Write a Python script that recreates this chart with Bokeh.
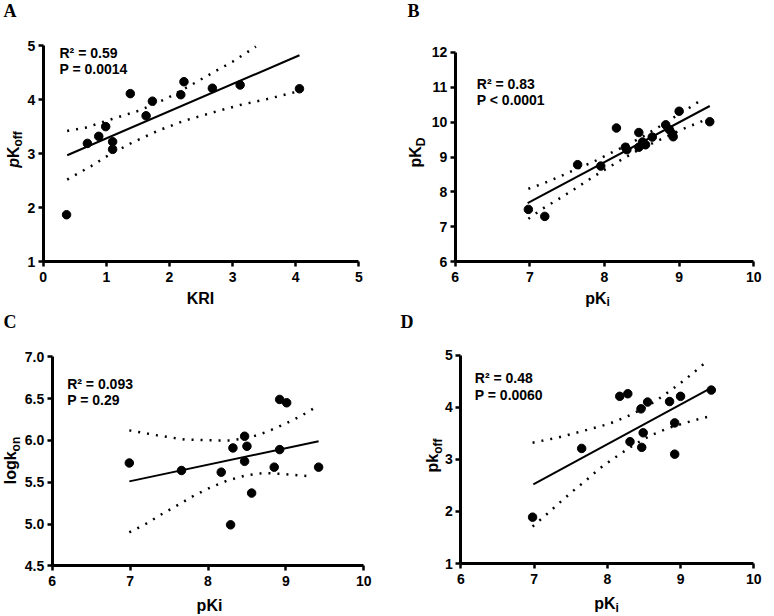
import math
from bokeh.plotting import figure
from bokeh.models import Range1d, FixedTicker, Label, PrintfTickFormatter, LinearAxis
from bokeh.layouts import column, row
from bokeh.embed import file_html
from bokeh.resources import INLINE

# ---------------- data ----------------
# Panel A: pKoff vs KRI
A_kri = [0.37, 0.70, 0.88, 0.99, 1.10, 1.10, 1.38, 1.63, 1.73, 2.18, 2.23, 2.68, 3.12, 4.06]
A_pkoff = [1.87, 3.19, 3.32, 3.50, 3.22, 3.08, 4.11, 3.70, 3.97, 4.09, 4.33, 4.21, 4.27, 4.20]
A_fit_x = [0.38, 4.06]
A_fit_y = [2.97, 4.82]
A_hi_x = [0.38, 0.67, 1.09, 1.53, 1.94, 2.33, 2.72, 3.00, 3.37]
A_hi_y = [3.42, 3.48, 3.64, 3.80, 4.01, 4.26, 4.52, 4.70, 4.98]
A_lo_x = [0.38, 0.76, 1.02, 1.42, 1.83, 2.24, 2.68, 3.12, 3.55, 4.00]
A_lo_y = [2.52, 2.77, 2.96, 3.21, 3.43, 3.61, 3.76, 3.90, 4.01, 4.14]
A_stats = ["R\u00b2 = 0.59", "P = 0.0014"]

# Panel B: pKD vs pKi
B_pki = [6.98, 7.20, 7.64, 7.95, 8.16, 8.28, 8.30, 8.46, 8.46, 8.51, 8.55, 8.64, 8.82, 8.87, 8.91, 8.92, 9.00, 9.41]
B_pkd = [7.50, 7.30, 8.78, 8.74, 9.83, 9.28, 9.21, 9.70, 9.28, 9.43, 9.35, 9.57, 9.92, 9.78, 9.66, 9.58, 10.31, 10.01]
B_fit_x = [6.97, 9.41]
B_fit_y = [7.68, 10.46]
B_hi_x = [6.98, 7.19, 7.41, 7.63, 7.86, 8.08, 8.30, 8.50, 8.72, 8.91, 9.13, 9.33]
B_hi_y = [8.09, 8.25, 8.45, 8.66, 8.87, 9.11, 9.34, 9.57, 9.85, 10.11, 10.40, 10.68]
B_lo_x = [6.98, 7.17, 7.38, 7.59, 7.79, 7.99, 8.20, 8.42, 8.63, 8.85, 9.06, 9.28, 9.35]
B_lo_y = [7.23, 7.52, 7.79, 8.07, 8.35, 8.62, 8.89, 9.16, 9.38, 9.60, 9.81, 10.00, 10.07]
B_stats = ["R\u00b2 = 0.83", "P < 0.0001"]

# Panel C: logkon vs pKi
C_pki = [6.99, 7.66, 8.17, 8.29, 8.32, 8.47, 8.47, 8.50, 8.56, 8.85, 8.92, 8.92, 9.01, 9.42]
C_logkon = [5.73, 5.64, 5.62, 4.99, 5.91, 6.05, 5.75, 5.93, 5.37, 5.68, 6.49, 5.89, 6.45, 5.68]
C_fit_x = [6.99, 9.42]
C_fit_y = [5.51, 5.99]
C_hi_x = [6.99, 7.35, 7.70, 8.06, 8.29, 8.52, 8.75, 8.97, 9.19, 9.39]
C_hi_y = [6.12, 6.06, 6.01, 6.00, 6.00, 6.03, 6.10, 6.19, 6.29, 6.40]
C_lo_x = [6.99, 7.20, 7.41, 7.62, 7.82, 8.04, 8.25, 8.48, 8.72, 8.95, 9.19, 9.31]
C_lo_y = [4.90, 5.00, 5.12, 5.23, 5.34, 5.44, 5.52, 5.58, 5.61, 5.60, 5.58, 5.57]
C_stats = ["R\u00b2 = 0.093", "P = 0.29"]

# Panel D: pkoff vs pKi
D_pki = [6.98, 7.65, 8.17, 8.28, 8.31, 8.46, 8.47, 8.49, 8.55, 8.85, 8.92, 8.92, 9.00, 9.42]
D_pkoff = [1.89, 3.21, 4.21, 4.26, 3.34, 3.97, 3.23, 3.51, 4.10, 4.11, 3.70, 3.10, 4.21, 4.33]
D_fit_x = [6.99, 9.40]
D_fit_y = [2.52, 4.36]
D_hi_x = [6.98, 7.33, 7.68, 8.02, 8.25, 8.47, 8.67, 8.87, 9.06, 9.25, 9.34]
D_hi_y = [3.32, 3.42, 3.55, 3.68, 3.81, 3.96, 4.13, 4.33, 4.53, 4.75, 4.86]
D_lo_x = [6.98, 7.16, 7.35, 7.53, 7.72, 7.90, 8.10, 8.29, 8.45, 8.61, 8.83, 9.06, 9.29, 9.41]
D_lo_y = [1.71, 1.93, 2.17, 2.39, 2.61, 2.83, 3.03, 3.21, 3.35, 3.47, 3.60, 3.70, 3.79, 3.83]
D_stats = ["R\u00b2 = 0.48", "P = 0.0060"]

# axis extents and ticks
A_xlim, A_ylim = (0, 5), (1, 5)
B_xlim, B_ylim = (6, 10), (6, 12)
C_xlim, C_ylim = (6, 10), (4.5, 7.0)
D_xlim, D_ylim = (6, 10), (1, 5)
A_xticks = [0, 1, 2, 3, 4, 5]
A_yticks = [1, 2, 3, 4, 5]
B_xticks = [6, 7, 8, 9, 10]
B_yticks = [6, 7, 8, 9, 10, 11, 12]
C_xticks = [6, 7, 8, 9, 10]
C_yticks = [4.5, 5.0, 5.5, 6.0, 6.5, 7.0]
D_xticks = [6, 7, 8, 9, 10]
D_yticks = [1, 2, 3, 4, 5]

SANS = "Liberation Sans"
SERIF = "Liberation Serif"
W = 387
H1, H2 = 310, 306
BASE_FIX = 0.3  # correction of the label baseline, in em


def make_panel(H, xr, yr, xticks, yticks, left, right, bottom, top, yfmt=None):
    fw = W - left - right
    fh = H - bottom - top
    xs = (xr[1] - xr[0]) / fw
    ys = (yr[1] - yr[0]) / fh
    p = figure(width=W, height=H,
               x_range=Range1d(xr[0] - left * xs, xr[1] + right * xs),
               y_range=Range1d(yr[0] - bottom * ys, yr[1] + top * ys),
               x_axis_location=None, y_axis_location=None, min_border=0,
               output_backend="svg", toolbar_location=None)
    p.outline_line_color = None
    p.grid.visible = False
    p.background_fill_color = "white"
    p.border_fill_color = "white"
    xa = LinearAxis(fixed_location=yr[0], bounds=xr, ticker=FixedTicker(ticks=xticks))
    ya = LinearAxis(fixed_location=xr[0], bounds=yr, ticker=FixedTicker(ticks=yticks))
    if yfmt:
        ya.formatter = PrintfTickFormatter(format=yfmt)
    for ax in (xa, ya):
        ax.axis_line_width = 3
        ax.axis_line_color = "black"
        ax.major_tick_line_width = 2.5
        ax.major_tick_line_color = "black"
        ax.major_tick_out = 5
        ax.major_tick_in = 0
        ax.minor_tick_line_color = None
        ax.major_label_text_font = SANS
        ax.major_label_text_font_style = "bold"
        ax.major_label_text_font_size = "14px"
        ax.major_label_text_color = "black"
    xa.major_label_standoff = 5
    ya.major_label_standoff = 3
    p.add_layout(xa, "below")
    p.add_layout(ya, "left")
    return p


def draw(p, x, y, fx, fy, hx, hy, lx, ly):
    p.line(hx, hy, line_color="black", line_width=2.5, line_dash="2 7")
    p.line(lx, ly, line_color="black", line_width=2.5, line_dash="2 7")
    p.line(fx, fy, line_color="black", line_width=2)
    p.scatter(x, y, size=8.5, color="black")


def lab(p, x, y, text, size=16, style="bold", font=SANS, rotated=False, align="left"):
    fix = BASE_FIX * size
    if rotated:
        x -= fix
    else:
        y += fix
    p.add_layout(Label(x=x, y=y, x_units="screen", y_units="screen", text=text,
                       text_font=font, text_font_size="%gpx" % size, text_font_style=style,
                       text_color="black", angle=(math.pi / 2 if rotated else 0),
                       text_align=align, text_baseline="alphabetic"))


def stats(p, x, y, lines):
    lab(p, x, y, lines[0], size=14)
    lab(p, x, y - 16.3, lines[1], size=14)


WID = {"p": 0.611, "K": 0.722, "o": 0.611, "f": 0.333, "D": 0.722,
       "l": 0.278, "g": 0.611, "k": 0.556, "n": 0.611, "i": 0.278}


def ylabel(p, x, ycenter, parts):
    total = sum(sum(WID[c] for c in t) * s for t, s, st, sub in parts)
    pos = ycenter - total / 2
    for t, s, st, sub in parts:
        lab(p, x + (4 if sub else 0), pos, t, size=s, style=st, rotated=True)
        pos += sum(WID[c] for c in t) * s


def xlabel(p, xcenter, y, parts):
    total = sum(sum(WID[c] for c in t) * s for t, s, sub in parts)
    pos = xcenter - total / 2
    for t, s, sub in parts:
        lab(p, pos, y - (3 if sub else 0), t, size=s)
        pos += sum(WID[c] for c in t) * s


# ---------------- Panel A ----------------
pA = make_panel(H1, A_xlim, A_ylim, A_xticks, A_yticks, 42.7, 28.7, 48.7, 45)
draw(pA, A_kri, A_pkoff, A_fit_x, A_fit_y, A_hi_x, A_hi_y, A_lo_x, A_lo_y)
stats(pA, 59, 253.3, A_stats)
lab(pA, 200, 7, "KRI", align="center")
ylabel(pA, 17.5, 161, [("p", 16, "bold italic", False), ("K", 16, "bold", False), ("off", 12, "bold", True)])
lab(pA, 3, 294, "A", size=18, font=SERIF)

# ---------------- Panel B ----------------
pB = make_panel(H1, B_xlim, B_ylim, B_xticks, B_yticks, 67.7, 20.7, 48.7, 51.7)
draw(pB, B_pki, B_pkd, B_fit_x, B_fit_y, B_hi_x, B_hi_y, B_lo_x, B_lo_y)
stats(pB, 89.3, 222.7, B_stats)
xlabel(pB, 210, 7.5, [("pK", 16, False), ("i", 12, True)])
ylabel(pB, 33, 158, [("pK", 16, "bold", False), ("D", 12, "bold", True)])
lab(pB, 20, 294, "B", size=18, font=SERIF)

# ---------------- Panel C ----------------
pC = make_panel(H2, C_xlim, C_ylim, C_xticks, C_yticks, 51.7, 23.7, 50.7, 46.3, yfmt="%.1f")
draw(pC, C_pki, C_logkon, C_fit_x, C_fit_y, C_hi_x, C_hi_y, C_lo_x, C_lo_y)
stats(pC, 66.7, 228.7, C_stats)
lab(pC, 209, 6, "pKi", align="center")
ylabel(pC, 15, 156, [("logk", 16, "bold", False), ("on", 12, "bold", True)])
lab(pC, 3, 289.5, "C", size=18, font=SERIF)

# ---------------- Panel D ----------------
pD = make_panel(H2, D_xlim, D_ylim, D_xticks, D_yticks, 73.3, 20.7, 53, 44.7)
draw(pD, D_pki, D_pkoff, D_fit_x, D_fit_y, D_hi_x, D_hi_y, D_lo_x, D_lo_y)
stats(pD, 87.3, 234, D_stats)
xlabel(pD, 219, 8, [("pK", 16, False), ("i", 12, True)])
ylabel(pD, 50, 161, [("pk", 16, "bold", False), ("off", 12, "bold", True)])
lab(pD, 13, 289.5, "D", size=18, font=SERIF)

layout = column(row(pA, pB), row(pC, pD))
open("out.html", "w").write(file_html(layout, INLINE))
